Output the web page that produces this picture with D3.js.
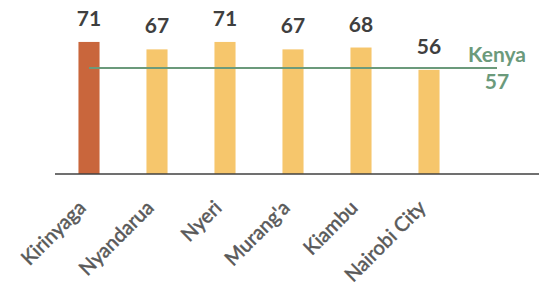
<!DOCTYPE html>
<html>
<head>
<meta charset="utf-8">
<script src="https://cdn.jsdelivr.net/npm/d3@7"></script>
<style>
  body { margin: 0; background: #fff; }
  svg { display: block; font-family: Lato, "Open Sans", sans-serif; }
</style>
</head>
<body>
<svg id="chart"></svg>
<script>
// data
const categories = ["Kirinyaga", "Nyandarua", "Nyeri", "Murang'a", "Kiambu", "Nairobi City"];
const values = [71, 67, 71, 67, 68, 56];
const kenyaLabel = "Kenya";
const kenyaValue = 57;

const width = 539,
  height = 286;

const svg = d3.select("#chart").attr("width", width).attr("height", height);

const x = d3
  .scaleBand()
  .domain(categories)
  .range([55, 463])
  .paddingInner(0.69)
  .paddingOuter(0.345);

const y = d3.scaleLinear().domain([0, 80]).range([174, 25.2]);

// bars
svg
  .selectAll(".bar")
  .data(categories)
  .enter()
  .append("rect")
  .attr("class", "bar")
  .attr("x", (d) => x(d))
  .attr("width", x.bandwidth())
  .attr("y", (d, i) => y(values[i]))
  .attr("height", (d, i) => y(0) - y(values[i]))
  .attr("fill", (d, i) => (i === 0 ? "#c9663c" : "#f6c66c"));

// value labels
svg
  .selectAll(".val")
  .data(categories)
  .enter()
  .append("text")
  .attr("class", "val")
  .attr("x", (d) => x(d) + x.bandwidth() / 2)
  .attr("y", (d, i) => y(values[i]) - 16)
  .attr("text-anchor", "middle")
  .attr("font-size", 21)
  .attr("font-weight", "bold")
  .attr("fill", "#3f3f3f")
  .text((d, i) => values[i]);

// axis line
svg
  .append("line")
  .attr("x1", 55)
  .attr("x2", width)
  .attr("y1", y(0))
  .attr("y2", y(0))
  .attr("stroke", "#404040")
  .attr("stroke-width", 1.5);

// category labels
svg
  .selectAll(".cat")
  .data(categories)
  .enter()
  .append("text")
  .attr("class", "cat")
  .attr("transform", (d) => `translate(${x(d) + x.bandwidth() / 2 - 2}, 209) rotate(-45)`)
  .attr("text-anchor", "end")
  .attr("font-size", 20)
  .attr("fill", "#595959")
  .attr("stroke", "#595959")
  .attr("stroke-width", 0.5)
  .text((d) => d);

// Kenya reference line
const lineStart = x(categories[0]) + x.bandwidth() / 2;
const lineEnd = x(categories[categories.length - 1]) + x.bandwidth() / 2 + x.step();

svg
  .append("line")
  .attr("x1", lineStart)
  .attr("x2", lineEnd)
  .attr("y1", y(kenyaValue))
  .attr("y2", y(kenyaValue))
  .attr("stroke", "#6b9a7b")
  .attr("stroke-width", 2);

svg
  .append("text")
  .attr("x", lineEnd)
  .attr("y", y(kenyaValue) - 6)
  .attr("text-anchor", "middle")
  .attr("font-size", 21)
  .attr("font-weight", "bold")
  .attr("fill", "#6b9a7b")
  .text(kenyaLabel);

svg
  .append("text")
  .attr("x", lineEnd)
  .attr("y", y(kenyaValue) + 21)
  .attr("text-anchor", "middle")
  .attr("font-size", 21)
  .attr("font-weight", "bold")
  .attr("fill", "#6b9a7b")
  .text(kenyaValue);
</script>
</body>
</html>
